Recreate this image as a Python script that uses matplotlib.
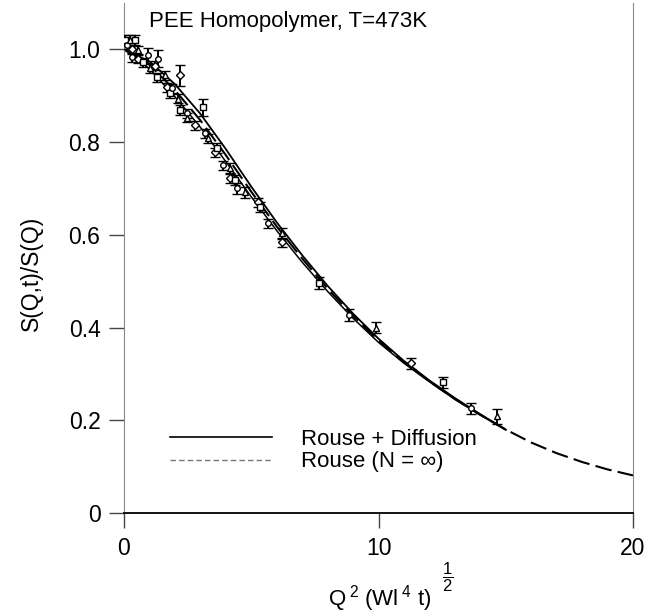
import matplotlib
matplotlib.use('Agg')
import matplotlib.pyplot as plt
from matplotlib.lines import Line2D

plt.rcParams['font.family'] = ['Liberation Sans', 'DejaVu Sans']
plt.rcParams['mathtext.fontset'] = 'custom'
plt.rcParams['mathtext.rm'] = 'Liberation Sans'
plt.rcParams['mathtext.it'] = 'Liberation Sans'
plt.rcParams['mathtext.default'] = 'regular'

# ---- data ----
q_x = [0.04, 0.12, 0.24, 0.31, 0.43, 0.31, 0.55, 0.55, 0.75, 0.94, 1.02, 1.22, 1.30, 1.34,
       1.61, 1.69, 1.80, 1.89, 2.12, 2.20, 2.20, 2.48, 2.48, 2.79, 3.10, 3.18, 3.30, 3.58,
       3.65, 3.89, 4.17, 4.17, 4.36, 4.44, 4.75, 5.27, 5.34, 5.66, 6.20, 6.20, 7.66, 8.84,
       9.90, 11.28, 12.53, 13.63, 14.66]
s_y = [1.020, 1.010, 1.020, 1.000, 1.020, 0.983, 0.998, 0.980, 0.972, 0.987, 0.959, 0.965,
       0.940, 0.980, 0.944, 0.918, 0.905, 0.916, 0.894, 0.944, 0.869, 0.862, 0.853, 0.836,
       0.875, 0.819, 0.808, 0.778, 0.787, 0.750, 0.744, 0.722, 0.718, 0.700, 0.692, 0.670,
       0.660, 0.625, 0.603, 0.584, 0.496, 0.427, 0.400, 0.323, 0.282, 0.226, 0.209]
s_err = [0.010, 0.010, 0.012, 0.010, 0.010, 0.010, 0.010, 0.010, 0.010, 0.016, 0.010, 0.010,
         0.010, 0.018, 0.010, 0.010, 0.010, 0.010, 0.010, 0.022, 0.010, 0.010, 0.010, 0.010,
         0.018, 0.010, 0.010, 0.010, 0.010, 0.010, 0.010, 0.010, 0.010, 0.012, 0.012, 0.010,
         0.010, 0.010, 0.012, 0.010, 0.012, 0.012, 0.012, 0.012, 0.012, 0.012, 0.016]

# Rouse + Diffusion curves (two Q values)
rd_x = [0, 1, 2, 3, 4, 5, 6, 7, 8, 9, 10, 11, 12, 13, 14, 15]
rd_hi = [1.000, 0.974, 0.925, 0.861, 0.785, 0.704, 0.627, 0.556, 0.490, 0.430, 0.376,
         0.328, 0.286, 0.248, 0.213, 0.180]
rd_lo = [1.000, 0.958, 0.898, 0.832, 0.758, 0.682, 0.609, 0.541, 0.478, 0.420, 0.368,
         0.323, 0.283, 0.245, 0.211, 0.179]
# Rouse (N = inf)
r_x = [0, 1, 2, 3, 4, 5, 6, 7, 8, 9, 10, 11, 12, 13, 14, 15, 16, 17, 18, 19, 20]
r_y = [1.000, 0.967, 0.912, 0.847, 0.772, 0.693, 0.618, 0.549, 0.484, 0.425, 0.372,
       0.326, 0.284, 0.246, 0.212, 0.180, 0.152, 0.129, 0.110, 0.094, 0.081]

x_ticks = [0, 10, 20]
y_ticks = [0, 0.2, 0.4, 0.6, 0.8, 1.0]
y_ticklabels = ['0', '0.2', '0.4', '0.6', '0.8', '1.0']

fig = plt.figure(figsize=(6.48, 6.16), dpi=100)
ax = fig.add_axes([124 / 648, 103 / 616, 509 / 648, 510 / 616])

ax.plot(rd_x, rd_hi, color='black', lw=1.3, zorder=2)
ax.plot(rd_x, rd_lo, color='black', lw=1.1, zorder=2)
ax.plot(r_x, r_y, color='black', lw=1.5, dashes=(8, 3), zorder=2)

markers = ['s', 'o', '^', 'D']
for i in range(len(q_x)):
    ax.errorbar(q_x[i], s_y[i], yerr=s_err[i], fmt=markers[i % 4], ms=4,
                mfc='white', mec='black', mew=1.0, ecolor='black', elinewidth=1.4,
                capsize=3.5, capthick=1.4, zorder=3)

ax.set_xlim(0, 20)
ax.set_ylim(0, 1.10)
ax.set_xticks(x_ticks)
ax.set_xticklabels([str(t) for t in x_ticks])
ax.set_yticks(y_ticks)
ax.set_yticklabels(y_ticklabels)
ax.tick_params(axis='both', direction='out', length=11, width=1.0, labelsize=16.5, pad=6)
ax.tick_params(axis='y', colors='#444444', labelcolor='black')
ax.tick_params(axis='x', colors='#444444', labelcolor='black')

ax.spines['top'].set_visible(False)
ax.spines['left'].set_color('#888888')
ax.spines['right'].set_color('#888888')
ax.spines['bottom'].set_color('black')
ax.spines['bottom'].set_linewidth(1.3)

ax.set_ylabel('S(Q,t)/S(Q)', fontsize=16.5)
ax.yaxis.set_label_coords(-0.16, 0.47)
ax.set_xlabel(r'Q$^{\;2}$ (Wl$^{\;4}$ t)', fontsize=16)
ax.xaxis.set_label_coords(0.502, -0.138)
ax.text(0.636, -0.127, r'$\dfrac{1}{2}$', transform=ax.transAxes, fontsize=12,
        ha='center', va='center')

ax.text(0.05, 0.985, 'PEE Homopolymer, T=473K', transform=ax.transAxes,
        fontsize=16, va='top', ha='left')

h1 = Line2D([], [], color='black', lw=1.2)
h2 = Line2D([], [], color='#777777', lw=1.0, dashes=(4, 2.2))
ax.legend([h1, h2], ['Rouse + Diffusion', 'Rouse (N = \u221e)'],
          loc='center left', bbox_to_anchor=(0.09, 0.122), frameon=False,
          fontsize=16, handlelength=4.6, handletextpad=1.3, labelspacing=0.05,
          borderpad=0, borderaxespad=0)

fig.savefig('out.png', dpi=100)
